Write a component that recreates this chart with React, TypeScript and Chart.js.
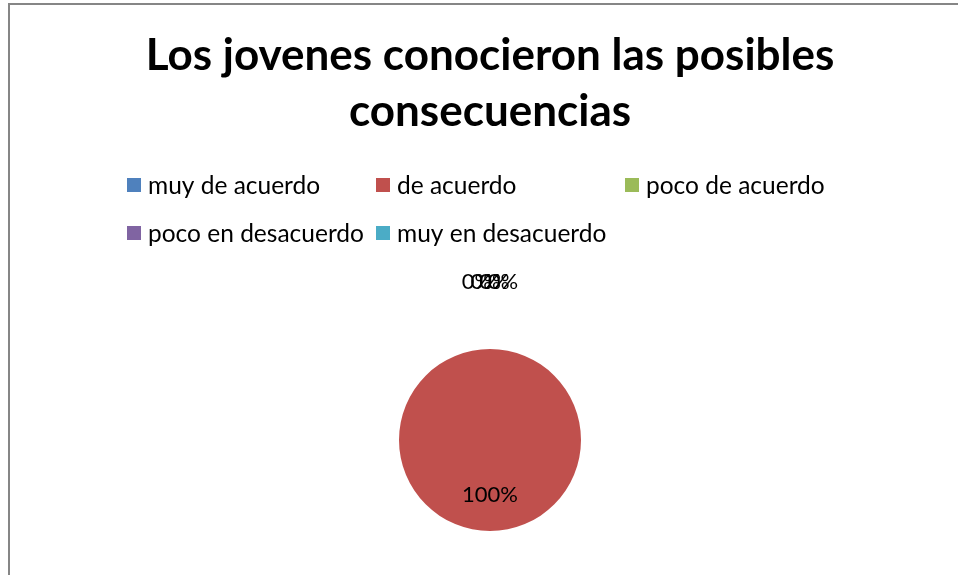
import React, { useEffect, useRef } from "react";
import { Chart, registerables } from "chart.js";

Chart.register(...registerables);

const titleLines = ["Los jovenes conocieron las posibles", "consecuencias"];
const categories = ["muy de acuerdo", "de acuerdo", "poco de acuerdo", "poco en desacuerdo", "muy en desacuerdo"];
const values = [0, 100, 0, 0, 0];
const colors = ["#4F81BD", "#C0504D", "#9BBB59", "#8064A2", "#4BACC6"];

const FONT = "Lato, 'Open Sans', sans-serif";

const decorPlugin = {
  id: "decor",
  beforeDraw(chart: any) {
    const ctx = chart.ctx;
    ctx.save();
    ctx.fillStyle = "#ffffff";
    ctx.fillRect(0, 0, chart.width, chart.height);
    ctx.strokeStyle = "#868686";
    ctx.lineWidth = 2;
    ctx.strokeRect(9, 4, 3000, 3000);
    ctx.restore();
  },
  afterDraw(chart: any) {
    const ctx = chart.ctx;
    ctx.save();
    // title
    ctx.fillStyle = "#000";
    ctx.textAlign = "center";
    ctx.textBaseline = "alphabetic";
    ctx.font = `bold 44px ${FONT}`;
    titleLines.forEach((t, i) => ctx.fillText(t, 490, 70 + i * 56));

    // legend grid
    const labels = chart.data.labels as string[];
    const bg = chart.data.datasets[0].backgroundColor as string[];
    const colX = [127, 376, 625];
    const rowY = [185, 233];
    ctx.font = `24.5px ${FONT}`;
    ctx.textAlign = "left";
    ctx.textBaseline = "middle";
    labels.forEach((lab, i) => {
      const x = colX[i % 3];
      const y = rowY[Math.floor(i / 3)];
      ctx.fillStyle = bg[i];
      ctx.fillRect(x, y - 7, 14, 14);
      ctx.fillStyle = "#000";
      ctx.fillText(lab, x + 21, y + 1);
    });

    // data labels
    const meta = chart.getDatasetMeta(0);
    const data = chart.data.datasets[0].data as number[];
    const total = data.reduce((a, b) => a + b, 0);
    const zeroIdx = data.map((v, i) => (v === 0 ? i : -1)).filter((i) => i >= 0);
    ctx.font = `22px ${FONT}`;
    ctx.textAlign = "center";
    ctx.textBaseline = "middle";
    ctx.fillStyle = "#000";
    meta.data.forEach((arc: any, i: number) => {
      const v = data[i];
      const pct = Math.round((v / total) * 100) + "%";
      const { x, y, startAngle, endAngle, outerRadius } = arc.getProps(["x", "y", "startAngle", "endAngle", "outerRadius"], true);
      if (v > 0) {
        const mid = (startAngle + endAngle) / 2;
        ctx.fillText(pct, x + Math.cos(mid) * outerRadius * 0.6, y + Math.sin(mid) * outerRadius * 0.6);
      } else {
        const k = zeroIdx.indexOf(i);
        const off = (k - (zeroIdx.length - 1) / 2) * 8.7;
        ctx.fillText(pct, x + off, y - outerRadius - 67);
      }
    });
    ctx.restore();
  },
};

export default function App() {
  const ref = useRef<HTMLCanvasElement>(null);
  useEffect(() => {
    if (!ref.current) return;
    const chart = new Chart(ref.current, {
      type: "pie",
      data: {
        labels: categories,
        datasets: [{ data: values, backgroundColor: colors, borderWidth: 0 }],
      },
      options: {
        animation: false,
        responsive: false,
        events: [],
        layout: { padding: { left: 399, right: 377, top: 349, bottom: 44 } },
        plugins: { legend: { display: false }, tooltip: { enabled: false }, title: { display: false } },
      },
      plugins: [decorPlugin],
    });
    return () => chart.destroy();
  }, []);
  return (
    <div style={{ position: "absolute", left: 0, top: 0, width: 958, height: 575 }}>
      <canvas ref={ref} width={958} height={575} />
    </div>
  );
}
